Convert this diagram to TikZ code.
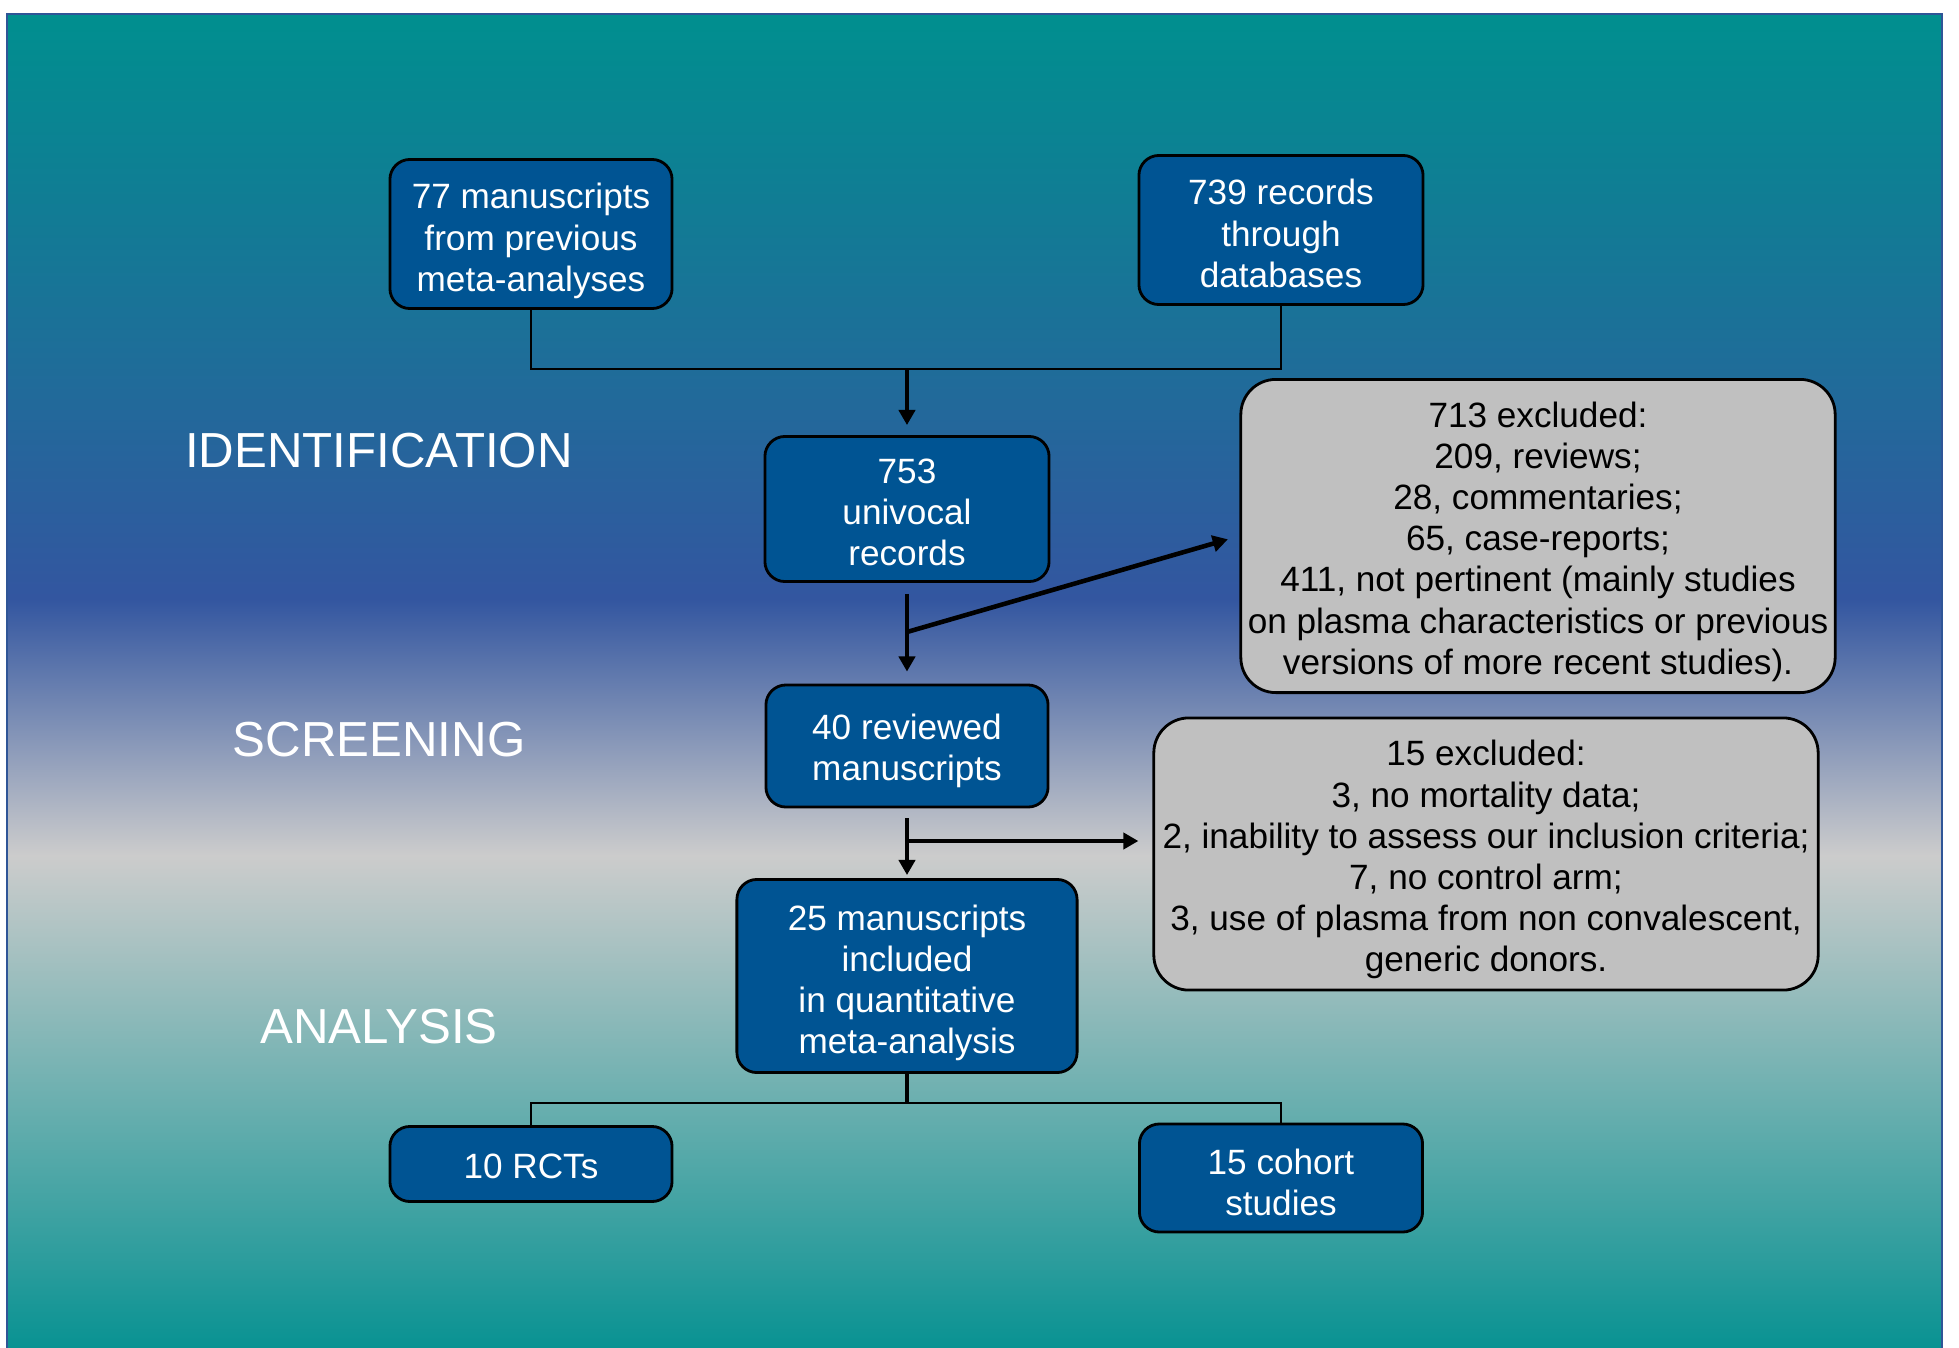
\documentclass[tikz,border=0pt]{standalone}
\usepackage{fontspec}
\setmainfont{Liberation Sans}
\usepackage{xcolor}
\usepackage{tikz}
\usetikzlibrary{calc,arrows.meta}
\definecolor{tealtop}{HTML}{008F8F}
\definecolor{tealbot}{HTML}{089292}
\definecolor{bluemid}{HTML}{3356A0}
\definecolor{greymid}{HTML}{CCCCCC}
\definecolor{frame}{HTML}{2F5597}
\definecolor{boxblue}{HTML}{005493}
\definecolor{boxgrey}{HTML}{C0C0C0}
\pgfdeclareverticalshading{stageshade}{100bp}{%
  color(0bp)=(tealbot); color(25bp)=(tealbot);
  color(43.5bp)=(greymid); color(53.1bp)=(bluemid);
  color(75bp)=(tealtop); color(100bp)=(tealtop)}
% pushes the text block a little down in its box
\newcommand{\boxstrut}[1][11.2pt]{\rule{0pt}{#1}}
\tikzset{
  stepbox/.style={
    draw=black, line width=0.8pt, fill=boxblue, text=white,
    rounded corners=0.2cm, align=center, inner sep=0pt,
    font=\fontsize{10}{11.7}\selectfont
  },
  exclbox/.style={
    draw=black, line width=0.8pt, fill=boxgrey, text=black,
    rounded corners=0.35cm, align=center, inner sep=0pt,
    font=\fontsize{10}{11.7}\selectfont
  },
  stage/.style={text=white, font=\fontsize{14}{17}\selectfont},
  link/.style={draw=black, line width=0.8pt},
  trunk/.style={draw=black, line width=1.3pt},
  flow/.style={draw=black, line width=1.3pt, -{Triangle[length=4.3pt,width=4.6pt]}}
}

\begin{document}
\begin{tikzpicture}[x=0.01cm, y=-0.01cm]
  \useasboundingbox (0,0) rectangle (1959,1348);
  \fill[white] (0,0) rectangle (1959,1348);
  \shadedraw[shading=stageshade, draw=frame, line width=0.6pt] (7,14) rectangle (1942,1350);

  % stages
  \node[stage] (ident) at (379,451) {IDENTIFICATION};
  \node[stage] (screen) at (379,740) {SCREENING};
  \node[stage] (analys) at (379,1027) {ANALYSIS};

  % main flow
  \node[stepbox, minimum width=2.82cm, minimum height=1.49cm] (prev) at (531,234)
    {\boxstrut 77 manuscripts\\from previous\\meta-analyses};
  \node[stepbox, minimum width=2.84cm, minimum height=1.49cm] (dbase) at (1281,230)
    {\boxstrut[9.2pt]739 records\\through\\databases};
  \node[stepbox, minimum width=2.84cm, minimum height=1.45cm] (univ) at (907,509)
    {\boxstrut[8.9pt]753\\univocal\\records};
  \node[stepbox, minimum width=2.82cm, minimum height=1.22cm] (revw) at (907,746)
    {\boxstrut[10.1pt]40 reviewed\\manuscripts};
  \node[stepbox, minimum width=3.40cm, minimum height=1.93cm] (incl) at (907,976)
    {\boxstrut 25 manuscripts\\included\\in quantitative\\meta-analysis};
  \node[stepbox, minimum width=2.82cm, minimum height=0.75cm] (rct) at (531,1164)
    {\boxstrut[8.6pt]10 RCTs};
  \node[stepbox, minimum width=2.83cm, minimum height=1.08cm] (cohort) at (1281,1178)
    {\boxstrut[9.9pt]15 cohort\\studies};

  % exclusions
  \node[exclbox, minimum width=5.94cm, minimum height=3.13cm] (excla) at (1538,536)
    {\boxstrut[10.5pt]713 excluded:\\209, reviews;\\28, commentaries;\\65, case-reports;\\
     411, not pertinent (mainly studies\\on plasma characteristics or previous\\
     versions of more recent studies).};
  \node[exclbox, minimum width=6.64cm, minimum height=2.72cm] (exclb) at (1486,854)
    {\boxstrut[10.5pt]15 excluded:\\3, no mortality data;\\2, inability to assess our inclusion criteria;\\
     7, no control arm;\\3, use of plasma from non convalescent,\\generic donors.};

  % connectors
  \coordinate (topjoin) at (907,369);
  \coordinate (forka) at (907,632);
  \coordinate (forkb) at (907,841);
  \coordinate (botjoin) at (907,1103);

  \draw[link] (prev.south) |- (topjoin) -| (dbase.south);
  \draw[flow, shorten >=0.1cm] (topjoin) -- (univ.north);
  \draw[flow, shorten <=0.11cm, shorten >=0.12cm] (univ.south) -- (revw.north);
  \draw[flow, shorten >=0.12cm] (forka) -- (excla.west);
  \draw[flow, shorten <=0.1cm, shorten >=0.03cm] (revw.south) -- (incl.north);
  \draw[flow, shorten >=0.14cm] (forkb) -- (forkb -| exclb.west);
  \draw[trunk] (incl.south) -- (botjoin);
  \draw[link] (rct.north) |- (botjoin) -| (cohort.north);
\end{tikzpicture}
\end{document}
